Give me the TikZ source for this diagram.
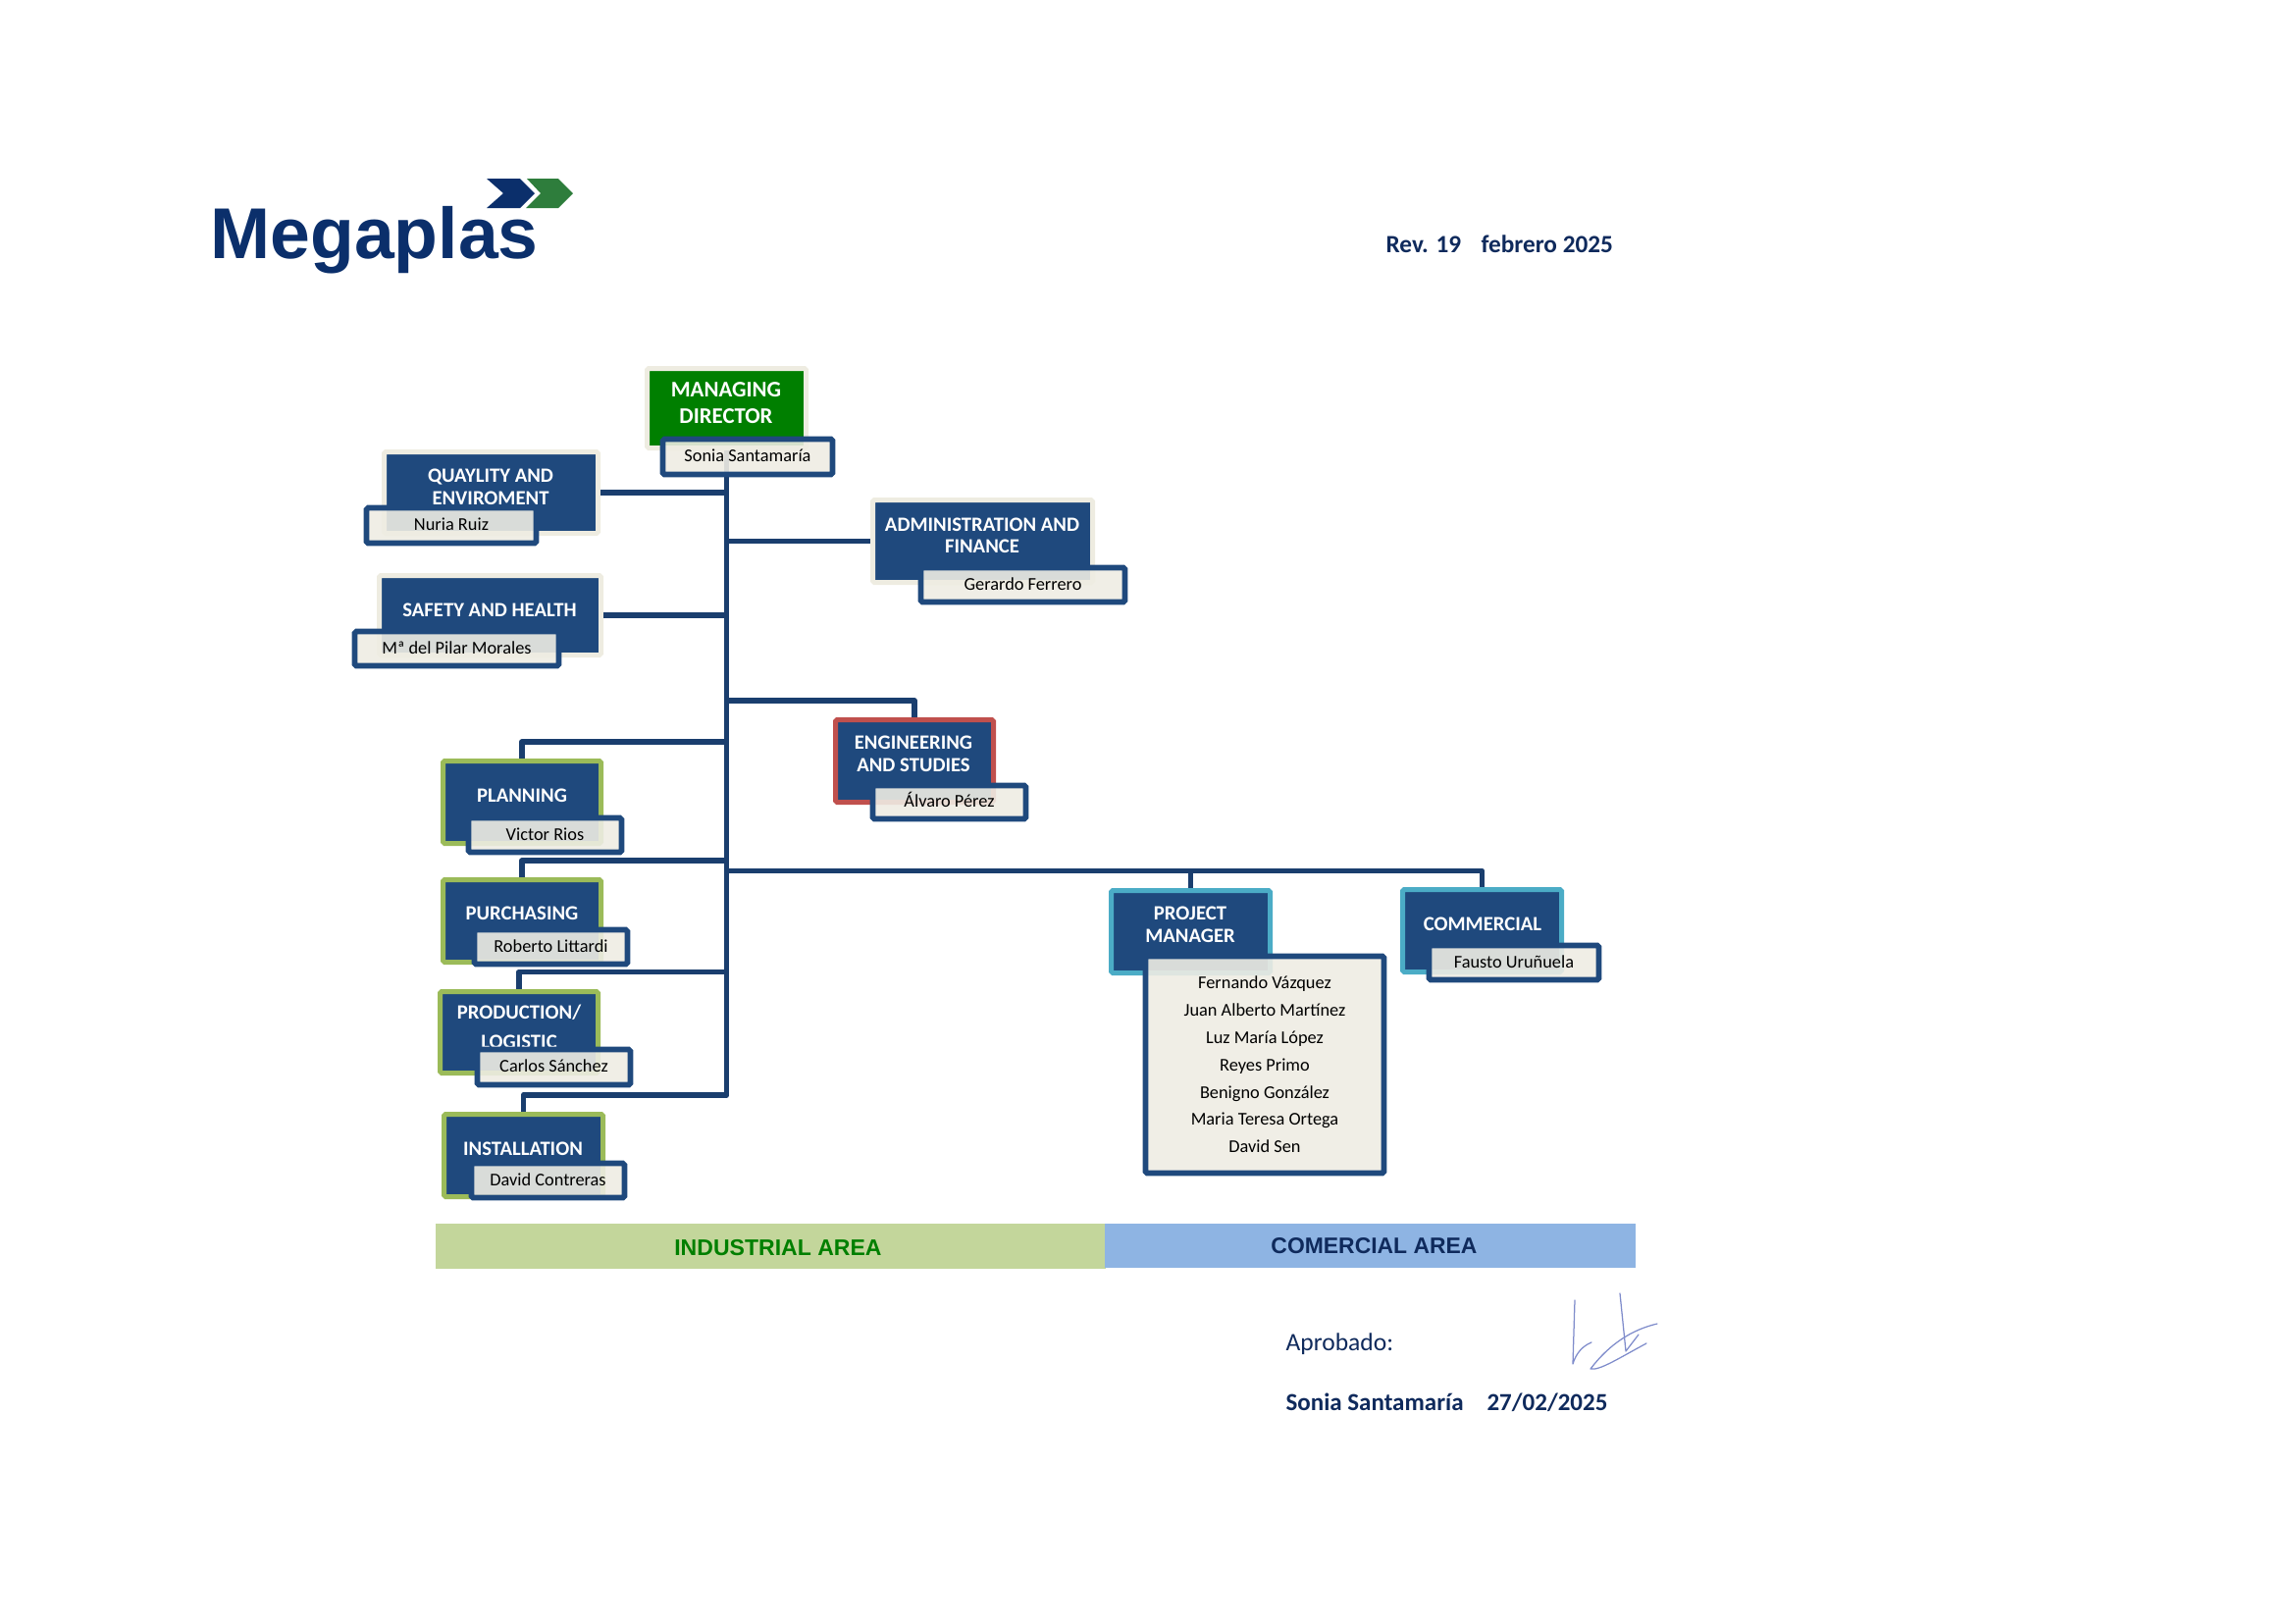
\documentclass[tikz,border=0pt]{standalone}
\usepackage{fontspec}
\setmainfont{Carlito}
\newfontfamily\arialf{Liberation Sans}
\definecolor{boxblue}{HTML}{1F497D}
\definecolor{linkblue}{HTML}{1A3E6E}
\definecolor{haloc}{HTML}{EEECE1}
\definecolor{namefill}{HTML}{EEECE3}
\definecolor{mdgreen}{HTML}{007F00}
\definecolor{olivec}{HTML}{9BBB59}
\definecolor{redc}{HTML}{C0504D}
\definecolor{tealc}{HTML}{4BACC6}
\definecolor{logoblue}{HTML}{0B2F6B}
\definecolor{logogreen}{HTML}{2E7D3C}
\definecolor{inkblue}{HTML}{0F2A5C}
\definecolor{barl}{HTML}{C3D69B}
\definecolor{barr}{HTML}{8EB4E3}
\definecolor{signc}{HTML}{7F8CCB}
\tikzset{
  base/.style={inner sep=0pt,line width=1.8pt,rounded corners=0.6pt},
  halobox/.style={base,fill=boxblue,draw=haloc},
  mdbox/.style={base,fill=mdgreen,draw=haloc},
  olivebox/.style={base,fill=boxblue,draw=olivec},
  redbox/.style={base,fill=boxblue,draw=redc},
  tealbox/.style={base,fill=boxblue,draw=tealc},
  namebox/.style={base,line width=2pt,fill=namefill,fill opacity=0.9,text opacity=1,draw=boxblue,
    align=center,font=\fontsize{6.6}{10}\selectfont,text=black},
  personbox/.style={namebox,text height=3.8pt,text depth=0pt},
  titletext/.style={inner sep=0pt,align=center,text=white},
  link/.style={draw=linkblue,line width=2.1pt,line join=round},
  sign/.style={draw=signc,line width=0.45pt,line cap=round,line join=round},
  inktext/.style={inner sep=0pt,anchor=base west,text=inkblue},
}
\newcommand\ubox[7]{%
  \pgfmathsetmacro\myw{(#5-#3-5)*0.36}%
  \pgfmathsetmacro\myh{(#6-#4-5)*0.36}%
  \node[#1,minimum width=\myw pt,minimum height=\myh pt] (#2) at ({(#3+#5)/2},{(#4+#6)/2}) {#7};%
}
\newcommand\ttl[6][7.45]{%
  \node[titletext,font=\fontsize{#1}{#5}\selectfont\bfseries] (#2) at (#3,#4) {#6};%
}
\begin{document}
\begin{tikzpicture}[x=0.36pt,y=-0.36pt]
\useasboundingbox (0,0) rectangle (2338,1654);
% logo
\fill[logoblue] (496,182) -- (530,182) -- (545,197) -- (530,212) -- (496,212) -- (513,197) -- cycle;
\fill[logogreen] (537,182) -- (569,182) -- (584,197) -- (569,212) -- (536,212) -- (551,197) -- cycle;
\node[inner sep=0pt,anchor=base west,text=logoblue,font=\arialf\fontsize{26.4}{30}\selectfont\bfseries] (logo) at (214,263) {Megaplas};
\node[inktext,font=\fontsize{9.1}{11}\selectfont\bfseries] (rev) at (1412,257) {Rev. 19};
\node[inktext,font=\fontsize{9.1}{11}\selectfont\bfseries] (rdate) at (1509,257) {febrero 2025};
% title boxes
\ubox{mdbox}{md}{657}{373}{824}{459}{}
\ubox{halobox}{qual}{389}{458}{612}{546}{}
\ubox{halobox}{safe}{384}{584}{615}{670}{}
\ubox{halobox}{admin}{887}{507}{1116}{596}{}
\ubox{redbox}{eng}{849}{731}{1015}{820}{}
\ubox{olivebox}{plan}{449}{773}{615}{862}{}
\ubox{olivebox}{purch}{449}{894}{615}{983}{}
\ubox{olivebox}{prod}{446}{1008}{612}{1096}{}
\ubox{olivebox}{inst}{450}{1133}{617}{1222}{}
\ubox{tealbox}{pm}{1130}{905}{1297}{994}{}
\ubox{tealbox}{comm}{1427}{904}{1594}{993}{}
% connectors
\coordinate (tend) at (740.5,1116);
\coordinate (teng) at (740.5,714);
\coordinate (tplan) at (740.5,756);
\coordinate (tpurch) at (740.5,877);
\coordinate (tbig) at (740.5,887.5);
\coordinate (tprod) at (740.5,990.5);
\path[link] (md.south) -- (tend) -| (inst.north);
\path[link] (qual.east) -- (qual.east -| tend);
\path[link] (safe.east) -- (safe.east -| tend);
\path[link] (admin.west -| tend) -- (admin.west);
\path[link] (teng) -| (eng.north);
\path[link] (tplan) -| (plan.north);
\path[link] (tpurch) -| (purch.north);
\path[link] (tprod) -| (prod.north);
\path[link] (tbig) -| (comm.north);
\path[link] (tbig -| pm.north) -- (pm.north);
% titles
\ttl[8.2]{tmd}{740}{410.5}{9.6}{MANAGING\\DIRECTOR}
\ttl{tqual}{500}{496.5}{8.2}{QUAYLITY AND\\ENVIROMENT}
\ttl{tsafe}{499}{622}{9.6}{SAFETY AND HEALTH}
\ttl{tadmin2}{1001}{545.5}{7.8}{ADMINISTRATION AND\\FINANCE}
\ttl{teng2}{931}{768.5}{8.3}{ENGINEERING\\AND STUDIES}
\ttl{tplan2}{532}{811}{9.6}{PLANNING}
\ttl{tpurch2}{532}{931}{9.6}{PURCHASING}
\ttl{tprod2}{529}{1046}{10.8}{PRODUCTION/\\LOGISTIC}
\ttl{tinst}{533}{1171}{9.6}{INSTALLATION}
\ttl{tpm}{1213}{942.5}{8.3}{PROJECT\\MANAGER}
\ttl{tcomm}{1511}{942}{9.6}{COMMERCIAL}
% person boxes
\ubox{personbox}{nmd}{673}{445}{851}{486}{Sonia Santamaría}
\ubox{personbox}{nqual}{371}{515}{549}{556}{Nuria Ruiz}
\ubox{personbox}{nsafe}{359}{641}{572}{681}{Mª del Pilar Morales}
\ubox{personbox}{nadmin}{936}{576}{1149}{616}{Gerardo Ferrero}
\ubox{personbox}{neng}{887}{798}{1048}{837}{Álvaro Pérez}
\ubox{personbox}{nplan}{475}{831}{636}{871}{Victor Rios}
\ubox{personbox}{npurch}{481}{945}{642}{985}{Roberto Littardi}
\ubox{personbox}{nprod}{484}{1067}{645}{1108}{Carlos Sánchez}
\ubox{personbox}{ninst}{478}{1183}{639}{1223}{David Contreras}
\ubox{personbox}{ncomm}{1454}{961}{1632}{1001}{Fausto Uruñuela}
\ubox{namebox}{npm}{1165}{972}{1413}{1198}{Fernando Vázquez\\Juan Alberto Martínez\\Luz María López\\Reyes Primo\\Benigno González\\Maria Teresa Ortega\\David Sen}
% area bars
\node[inner sep=0pt,fill=barl,minimum width=246.2pt,minimum height=16.4pt] (indbar) at (785.5,1270) {};
\node[inner sep=0pt,fill=barr,minimum width=194.8pt,minimum height=16.2pt] (combar) at (1396.5,1269) {};
\node[inner sep=0pt,text=mdgreen,font=\arialf\fontsize{8.3}{10}\selectfont\bfseries] (indlabel) at (793,1271.5) {INDUSTRIAL AREA};
\node[inner sep=0pt,text=inkblue,font=\arialf\fontsize{8.25}{10}\selectfont\bfseries] (comtxt) at (1400.5,1269.5) {COMERCIAL AREA};
% approval
\node[inktext,font=\fontsize{9.2}{11}\selectfont] (appr) at (1310,1376) {Aprobado:};
\node[inktext,font=\fontsize{9}{11}\selectfont\bfseries] (asign) at (1310,1437) {Sonia Santamaría};
\node[inktext,font=\fontsize{9}{11}\selectfont\bfseries] (adate) at (1515,1437) {27/02/2025};
\draw[sign] (1605,1325) -- (1603,1390) .. controls (1606,1380) and (1612,1372) .. (1622,1368);
\draw[sign] (1651,1318) -- (1657,1377) -- (1670,1360);
\draw[sign] (1689,1349) .. controls (1663,1355) and (1640,1370) .. (1621,1395) .. controls (1630,1397) and (1650,1384) .. (1678,1369);
\end{tikzpicture}
\end{document}
